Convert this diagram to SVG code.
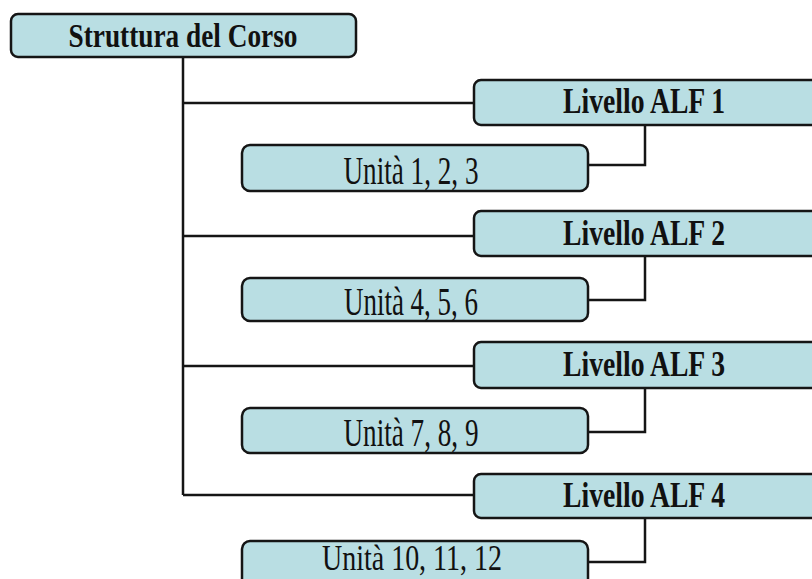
<svg xmlns="http://www.w3.org/2000/svg" width="812" height="579" viewBox="0 0 812 579">
<style>
.box{fill:#b9dee3;stroke:#151515;stroke-width:2.5}
.ln{fill:none;stroke:#151515;stroke-width:2.5}
.t{font-family:"Liberation Serif","Times New Roman",serif;fill:#111;text-anchor:middle}
.b{font-weight:bold}
</style>
<rect width="812" height="579" fill="#ffffff"/>
<g id="connectors">
<path class="ln" d="M183,57 V495"/>
<path class="ln" d="M183,103 H474 M183,236 H474 M183,366 H474 M183,495 H474"/>
<path class="ln" d="M645,125 V165 H588"/>
<path class="ln" d="M645,256 V300 H588"/>
<path class="ln" d="M645,388 V432 H588"/>
<path class="ln" d="M645,518 V562 H588"/>
</g>
<g id="root">
<rect class="box" x="11" y="14" width="345" height="43" rx="7"/>
<text class="t b" x="183" y="47" font-size="33" textLength="229" lengthAdjust="spacingAndGlyphs">Struttura del Corso</text>
</g>
<g id="alf1">
<rect class="box" x="474" y="80" width="350" height="45" rx="7"/>
<text class="t b" x="644" y="113" font-size="36" textLength="162" lengthAdjust="spacingAndGlyphs">Livello ALF 1</text>
</g>
<g id="u1">
<rect class="box" x="242" y="145" width="346" height="46" rx="8"/>
<text class="t" x="411" y="184" font-size="39" textLength="135" lengthAdjust="spacingAndGlyphs">Unità 1, 2, 3</text>
</g>
<g id="alf2">
<rect class="box" x="474" y="211" width="350" height="45" rx="7"/>
<text class="t b" x="644" y="245" font-size="36" textLength="162" lengthAdjust="spacingAndGlyphs">Livello ALF 2</text>
</g>
<g id="u2">
<rect class="box" x="242" y="278" width="346" height="43" rx="8"/>
<text class="t" x="411" y="315" font-size="39" textLength="134" lengthAdjust="spacingAndGlyphs">Unità 4, 5, 6</text>
</g>
<g id="alf3">
<rect class="box" x="474" y="342" width="350" height="46" rx="7"/>
<text class="t b" x="644" y="376" font-size="36" textLength="162" lengthAdjust="spacingAndGlyphs">Livello ALF 3</text>
</g>
<g id="u3">
<rect class="box" x="242" y="408" width="346" height="45" rx="8"/>
<text class="t" x="411" y="446" font-size="39" textLength="135" lengthAdjust="spacingAndGlyphs">Unità 7, 8, 9</text>
</g>
<g id="alf4">
<rect class="box" x="474" y="474" width="350" height="44" rx="7"/>
<text class="t b" x="644" y="507" font-size="36" textLength="162" lengthAdjust="spacingAndGlyphs">Livello ALF 4</text>
</g>
<g id="u4">
<rect class="box" x="242" y="541" width="346" height="46" rx="8"/>
<text class="t" x="412" y="570" font-size="36" textLength="180" lengthAdjust="spacingAndGlyphs">Unità 10, 11, 12</text>
</g>
</svg>
